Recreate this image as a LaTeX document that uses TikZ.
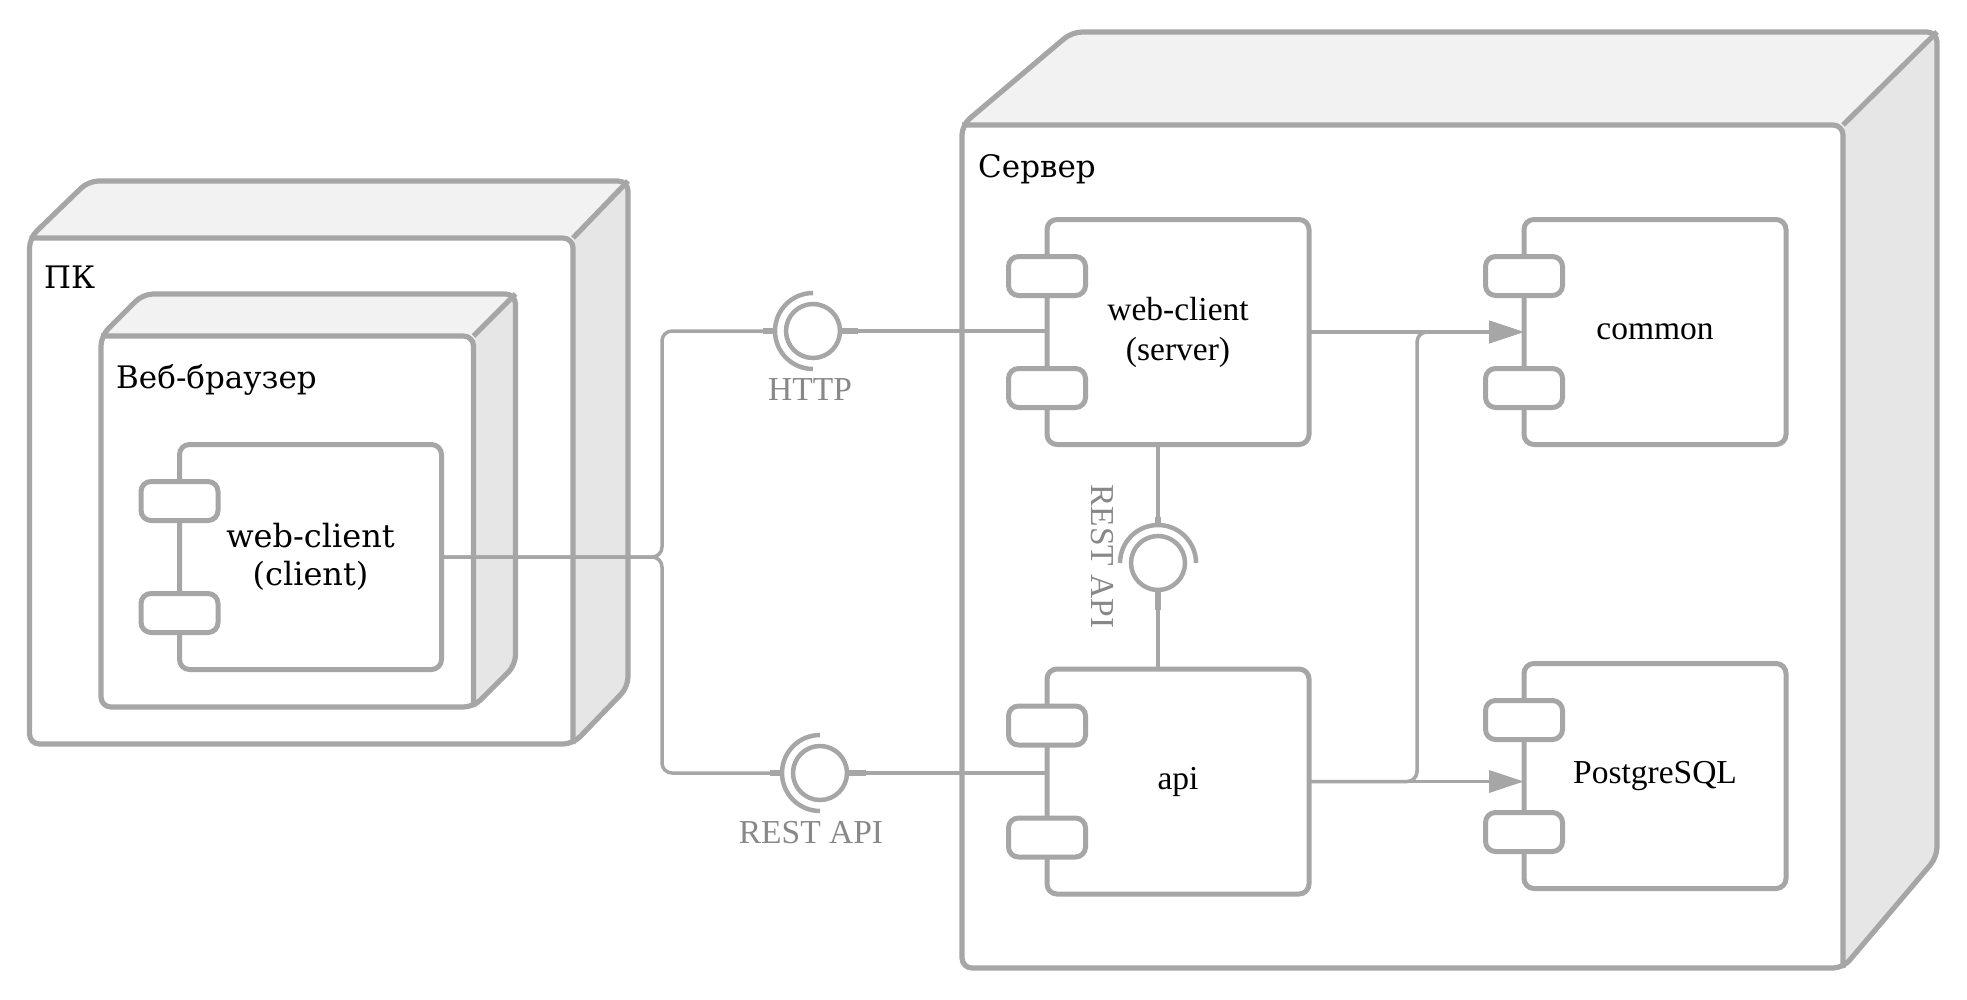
\documentclass[tikz,border=0pt]{standalone}
\usepackage{fontspec}
\usetikzlibrary{arrows.meta}
\newfontfamily\labelfont{DejaVu Serif}
\newfontfamily\compfont{Liberation Serif}
\definecolor{linec}{HTML}{A6A6A6}
\definecolor{topc}{HTML}{F2F2F2}
\definecolor{sidec}{HTML}{E6E6E6}
\definecolor{captc}{HTML}{888888}

% UML component: body with two tabs on its left edge
\newcommand\umlcomp[5]{%
  \node[compbody,#4] (#1) at (#2,#3) {#5};
  \node[comptab] (#1-a) at ([yshift=-56.5pt]#1.north west) {};
  \node[comptab] (#1-b) at ([yshift=56.5pt]#1.south west) {};
}

\begin{document}
\begin{tikzpicture}[x=1pt,y=-1pt,
  boxline/.style={draw=linec,line width=5.2pt,rounded corners=10pt,line join=round},
  compbody/.style={draw=linec,line width=5pt,rounded corners=10pt,fill=white,
    minimum width=262pt,minimum height=225pt,inner sep=0pt,outer sep=0pt,align=center},
  comptab/.style={draw=linec,line width=5pt,rounded corners=10pt,fill=white,
    minimum width=77pt,minimum height=39pt,inner sep=0pt,outer sep=0pt},
  conn/.style={draw=linec,line width=3.5pt,rounded corners=10pt},
  stub/.style={draw=linec,line width=6pt},
  ifball/.style={circle,draw=linec,line width=4.5pt,minimum size=54pt,inner sep=0pt,fill=white},
  ifsocket/.style={draw=linec,line width=4.5pt},
  headtip/.style={-{Triangle[length=35pt,width=22pt]}},
  boxlabel/.style={font=\labelfont\fontsize{31}{37}\selectfont,anchor=base west,inner sep=0pt},
  clienttext/.style={font=\labelfont\fontsize{32}{38.5}\selectfont},
  comptext/.style={font=\compfont\fontsize{33.5}{40}\selectfont},
  ifacelabel/.style={font=\compfont\fontsize{33.5}{40}\selectfont,text=captc,inner sep=0pt}
]
\useasboundingbox (0,0) rectangle (1967,999);

% ---- PC node ----
\fill[topc,rounded corners=10pt] (29.5,744) -- (29.5,238) -- (88.5,181) -- (628,181) -- (628,687) -- (573,744) -- cycle;
\fill[sidec,rounded corners=10pt] (573,238) -- (628,181) -- (628,687) -- (573,744) -- cycle;
\fill[white,rounded corners=10pt] (29.5,238) rectangle (573,744);
\draw[boxline] (29.5,744) -- (29.5,238) -- (88.5,181) -- (628,181) -- (628,687) -- (573,744) -- cycle;
\draw[boxline] (29.5,238) -- (573,238) -- (573,744);
\draw[boxline] (573,238) -- (628,181);
\node[boxlabel] (pcLabel) at (44,288) {ПК};

% ---- browser node ----
\fill[topc,rounded corners=10pt] (101,707) -- (101,336) -- (143,294) -- (515.5,294) -- (515.5,665) -- (473.5,707) -- cycle;
\fill[sidec,rounded corners=10pt] (473.5,336) -- (515.5,294) -- (515.5,665) -- (473.5,707) -- cycle;
\fill[white,rounded corners=10pt] (101,336) rectangle (473.5,707);
\draw[boxline] (101,707) -- (101,336) -- (143,294) -- (515.5,294) -- (515.5,665) -- (473.5,707) -- cycle;
\draw[boxline] (101,336) -- (473.5,336) -- (473.5,707);
\draw[boxline] (473.5,336) -- (515.5,294);
\node[boxlabel] (brLabel) at (116,388) {Веб-браузер};

\umlcomp{cli}{310.5}{557}{clienttext}{web-client\\(client)}

% ---- server node ----
\fill[topc,rounded corners=10pt] (962,968) -- (962,125) -- (1072,32) -- (1937,32) -- (1937,857) -- (1843,968) -- cycle;
\fill[sidec,rounded corners=10pt] (1843,125) -- (1937,32) -- (1937,857) -- (1843,968) -- cycle;
\fill[white,rounded corners=10pt] (962,125) rectangle (1843,968);
\draw[boxline] (962,968) -- (962,125) -- (1072,32) -- (1937,32) -- (1937,857) -- (1843,968) -- cycle;
\draw[boxline] (962,125) -- (1843,125) -- (1843,968);
\draw[boxline] (1843,125) -- (1937,32);
\node[boxlabel] (srvLabel) at (978,177) {Сервер};

\umlcomp{wcs}{1178}{332}{comptext}{web-client\\(server)}
\umlcomp{common}{1655}{332}{comptext}{common}
\umlcomp{api}{1178}{781.5}{comptext}{api}
\umlcomp{pg}{1655}{776}{comptext}{PostgreSQL}

% ---- interfaces ----
\node[ifball] (http) at (813,331) {};
\node[ifball] (restA) at (820,773) {};
\node[ifball] (restB) at (1158,563) {};
\draw[ifsocket] ([yshift=38pt]http.center) arc[start angle=90,end angle=270,radius=38pt];
\draw[ifsocket] ([yshift=38pt]restA.center) arc[start angle=90,end angle=270,radius=38pt];
\draw[ifsocket] ([xshift=38pt]restB.center) arc[start angle=0,end angle=180,radius=38pt];

\coordinate (brace) at (662,557);
\draw[conn] (cli.east) -- (brace) |- ([xshift=-38pt]http.center);
\draw[conn] (cli.east) -- (brace) |- ([xshift=-38pt]restA.center);
\draw[stub] ([xshift=-38pt]http.center) -- ++(-12,0);
\draw[stub] ([xshift=-38pt]restA.center) -- ++(-12,0);

\draw[conn] (http.east) -- (http.east -| wcs.west);
\draw[stub] (http.east) -- ++(16,0);
\draw[conn] (restA.east) -- (restA.east -| api.west);
\draw[stub] (restA.east) -- ++(17,0);

\draw[conn] (restB |- wcs.south) -- ([yshift=38pt]restB.center);
\draw[stub] ([yshift=38pt]restB.center) -- ++(0,-8);
\draw[conn] (restB.south) -- (restB |- api.north);
\draw[stub] (restB.south) -- ++(0,18);

% ---- dependencies ----
\coordinate (bend) at (1417,781.5);
\draw[conn,headtip] (wcs.east) -- (common.west);
\draw[conn,headtip] (api.east) -- (api.east -| pg.west);
\draw[conn,headtip] (api.east) -- (bend) |- (common.west);

% ---- interface names ----
\node[ifacelabel,anchor=base] (httpLabel) at (810,400) {HTTP};
\node[ifacelabel,anchor=base] (restALabel) at (811,843) {REST API};
\node[ifacelabel,rotate=-90] (restBLabel) at (1102,556.5) {REST API};
\end{tikzpicture}
\end{document}
